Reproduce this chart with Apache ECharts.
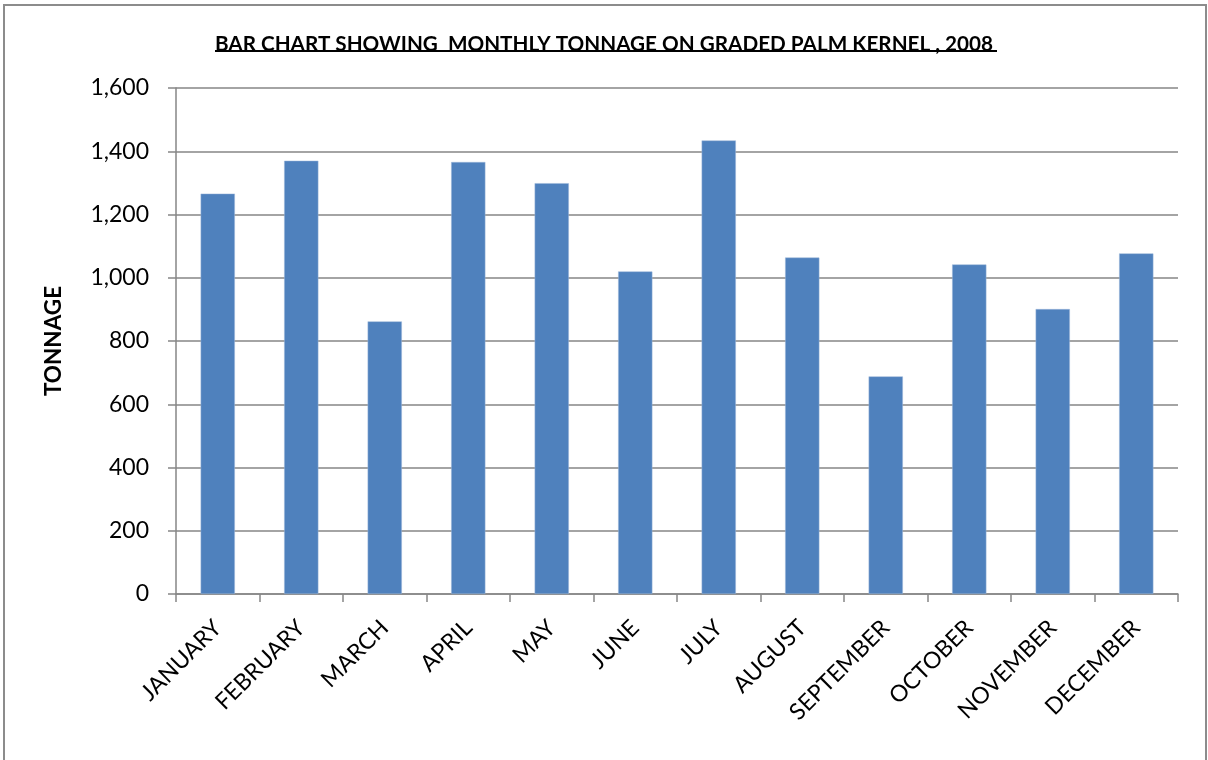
<!DOCTYPE html>
<html>
<head>
<meta charset="utf-8">
<script src="https://cdn.jsdelivr.net/npm/echarts@6/dist/echarts.min.js"></script>
<style>
  html, body { margin: 0; padding: 0; background: #fff; }
  #grafico { width: 1208px; height: 760px; }
</style>
</head>
<body>
<div id="grafico"></div>
<script>
// dados
var meses = ["JANUARY", "FEBRUARY", "MARCH", "APRIL", "MAY", "JUNE",
    "JULY", "AUGUST", "SEPTEMBER", "OCTOBER", "NOVEMBER", "DECEMBER"];
var tonelagem = [1266, 1370, 862, 1366, 1299, 1020, 1434, 1064, 688, 1042, 901, 1077];
var tituloTexto = "BAR CHART SHOWING  MONTHLY TONNAGE ON GRADED PALM KERNEL , 2008";
var nomeEixoY = "TONNAGE";

var fonte = "Lato, 'Open Sans', sans-serif";
var cinza = "#868686";

var myChart = echarts.init(document.getElementById("grafico"));

var option = {
    backgroundColor: "#fff",
    animation: false,
    title: {
        text: tituloTexto,
        left: "center",
        top: 29,
        textStyle: {
            fontFamily: fonte,
            fontSize: 20.7,
            fontWeight: "bold",
            color: "#000"
        }
    },
    graphic: [
        {
            // moldura
            type: "rect",
            shape: { x: 4, y: 5, width: 1202, height: 780 },
            style: { fill: "none", stroke: "#8c8c8c", lineWidth: 2 }
        },
        {
            // sublinhado do título
            type: "line",
            shape: { x1: 215, y1: 51, x2: 997, y2: 51 },
            style: { stroke: "#000", lineWidth: 2 }
        }
    ],
    grid: {
        left: 176,
        right: 30,
        top: 88,
        bottom: 166
    },
    xAxis: {
        type: "category",
        data: meses,
        boundaryGap: true,
        axisLine: { show: true, lineStyle: { color: cinza, width: 1.5 } },
        axisTick: { show: true, length: 8, lineStyle: { color: cinza, width: 1.5 } },
        axisLabel: {
            rotate: 45,
            margin: 30,
            interval: 0,
            fontFamily: fonte,
            fontSize: 23,
            color: "#000"
        }
    },
    yAxis: {
        type: "value",
        min: 0,
        max: 1600,
        interval: 200,
        name: nomeEixoY,
        nameLocation: "middle",
        nameRotate: 90,
        nameGap: 111,
        nameTextStyle: {
            fontFamily: fonte,
            fontSize: 22.5,
            fontWeight: "bold",
            color: "#000"
        },
        axisLine: { show: true, lineStyle: { color: cinza, width: 1.5 } },
        axisTick: { show: true, length: 8, lineStyle: { color: cinza, width: 1.5 } },
        axisLabel: {
            margin: 27,
            fontFamily: fonte,
            fontSize: 23,
            color: "#000",
            formatter: v => v.toLocaleString("en-US")
        },
        splitLine: { show: true, lineStyle: { color: cinza, width: 1.5 } }
    },
    series: [
        {
            name: "tonelagem",
            type: "bar",
            data: tonelagem,
            barWidth: "41%",
            itemStyle: { color: "#4F81BD", borderColor: "#9fb8da", borderWidth: 0.5 }
        }
    ]
};

myChart.setOption(option);
</script>
</body>
</html>
